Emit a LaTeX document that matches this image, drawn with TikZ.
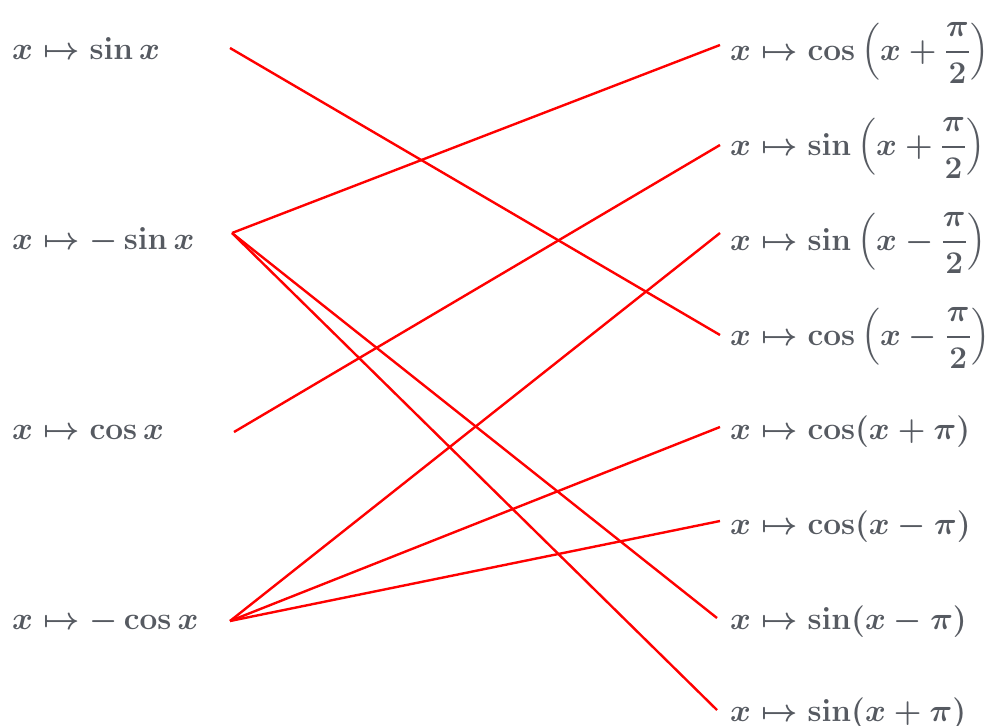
\documentclass[tikz,border=0pt]{standalone}
\usepackage{amsmath}
\usepackage{graphicx}
\definecolor{txt}{RGB}{86,90,97}
\definecolor{lnred}{RGB}{255,0,0}
\newcommand{\mapfn}[1]{\scalebox{1.27}{\fontsize{24.88}{30}\selectfont\boldmath$#1$}}
\tikzset{
  lbl/.style={anchor=base west,inner sep=0pt,text=txt},
  link/.style={draw=lnred,line width=2.4pt}
}
\begin{document}
\begin{tikzpicture}[x=1pt,y=-1pt]
\useasboundingbox (0,0) rectangle (989,726);
% left labels
\node[lbl] (l1) at (12,59) {\mapfn{x\mapsto\sin x}};
\node[lbl] (l2) at (12,249) {\mapfn{x\mapsto-\sin x}};
\node[lbl] (l3) at (12,439) {\mapfn{x\mapsto\cos x}};
\node[lbl] (l4) at (12,629) {\mapfn{x\mapsto-\cos x}};
% right labels
\node[lbl] (r1) at (730,60) {\mapfn{x\mapsto\cos\,\Bigl(x+\dfrac{\pi}{2}\Bigr)}};
\node[lbl] (r2) at (730,155) {\mapfn{x\mapsto\sin\,\Bigl(x+\dfrac{\pi}{2}\Bigr)}};
\node[lbl] (r3) at (730,250) {\mapfn{x\mapsto\sin\,\Bigl(x-\dfrac{\pi}{2}\Bigr)}};
\node[lbl] (r4) at (730,345) {\mapfn{x\mapsto\cos\,\Bigl(x-\dfrac{\pi}{2}\Bigr)}};
\node[lbl] (r5) at (730,439) {\mapfn{x\mapsto\cos(x+\pi)}};
\node[lbl] (r6) at (730,534) {\mapfn{x\mapsto\cos(x-\pi)}};
\node[lbl] (r7) at (730,629) {\mapfn{x\mapsto\sin(x-\pi)}};
\node[lbl] (r8) at (730,721) {\mapfn{x\mapsto\sin(x+\pi)}};
% connector ends
\coordinate (a1) at (230,48);
\coordinate (a2) at (232,233);
\coordinate (a3) at (234,432);
\coordinate (a4) at (230,621);
\coordinate (b1) at (720,45);
\coordinate (b2) at (720,145);
\coordinate (b3) at (720,233);
\coordinate (b4) at (720,335);
\coordinate (b5) at (720,427);
\coordinate (b6) at (720,521);
\coordinate (b7) at (717,618);
\coordinate (b8) at (717,710);
\draw[link] (a1) -- (b4);
\draw[link] (a2) -- (b1);
\draw[link] (a2) -- (b7);
\draw[link] (a2) -- (b8);
\draw[link] (a3) -- (b2);
\draw[link] (a4) -- (b3);
\draw[link] (a4) -- (b5);
\draw[link] (a4) -- (b6);
\end{tikzpicture}
\end{document}
